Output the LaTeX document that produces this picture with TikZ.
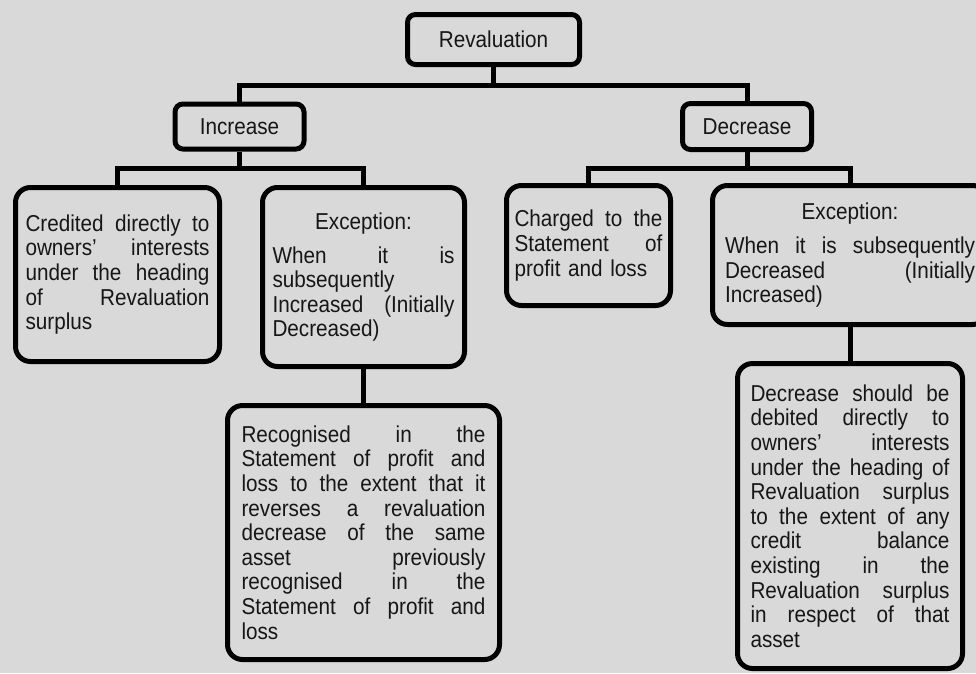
\documentclass[tikz,border=0pt]{standalone}
\usepackage{fontspec}
\setmainfont{Liberation Sans}[FakeStretch=0.9]
\definecolor{bgc}{RGB}{217,217,217}
\definecolor{ink}{RGB}{22,22,22}
% one justified line, one ragged last line, one centred line
\newlength\jwd
\newcommand\jline[1]{\hbox to\jwd{\spaceskip=\fontdimen2\font plus 1fil\relax #1}}
\newcommand\lastline[1]{\hbox to\jwd{#1\hfil}}
\newcommand\ctrline[1]{\hbox to\jwd{\hfil#1\hfil}}
\tikzset{
  every node/.style={font=\fontsize{23}{24.6}\selectfont, text=ink},
  smallbox/.style={draw=black, line width=5pt, rounded corners=8pt, fill=bgc, inner sep=0pt},
  bigbox/.style={draw=black, line width=5pt, rounded corners=15pt, fill=bgc, inner sep=0pt},
  para/.style={text width=#1, execute at begin node={\setlength\jwd{#1}}},
  link/.style={draw=black, line width=5pt}
}
\begin{document}
\begin{tikzpicture}[x=1pt, y=-1pt]
  \fill[bgc] (0,0) rectangle (976,673);
  \useasboundingbox (0,0) rectangle (976,673);

  % top level
  \node[smallbox, minimum width=172pt, minimum height=50pt] (rev) at (493.5,39.5) {Revaluation};
  \node[smallbox, minimum width=129pt, minimum height=45pt] (inc) at (239.5,126.5) {Increase};
  \node[smallbox, minimum width=129pt, minimum height=46pt] (dec) at (747,126.5) {Decrease};

  % increase branch
  \node[bigbox, minimum width=204pt, minimum height=174pt, para=184pt] (cred) at (117.5,274.5) {%
    \jline{Credited directly to}
    \jline{owners’ interests}
    \jline{under the heading}
    \jline{of Revaluation}
    \lastline{surplus}};
  \node[bigbox, minimum width=202pt, minimum height=179pt, para=182pt] (exci) at (363.5,277) {%
    \ctrline{Exception:}\vskip 9.5pt
    \jline{When it is}
    \lastline{subsequently}
    \jline{Increased (Initially}
    \lastline{Decreased)}};
  \node[bigbox, minimum width=272pt, minimum height=254pt, para=244pt] (recog) at (363.5,532.5) {%
    \jline{Recognised in the}
    \jline{Statement of profit and}
    \jline{loss to the extent that it}
    \jline{reverses a revaluation}
    \jline{decrease of the same}
    \jline{asset previously}
    \jline{recognised in the}
    \jline{Statement of profit and}
    \lastline{loss}};

  % decrease branch
  \node[bigbox, minimum width=164pt, minimum height=120pt, para=148pt] (chg) at (588.5,245.5) {%
    \jline{Charged to the}
    \jline{Statement of}
    \lastline{profit and loss}};
  \node[bigbox, minimum width=275pt, minimum height=139pt, para=250pt] (excd) at (850,255) {%
    \ctrline{Exception:}\vskip 9.5pt
    \jline{When it is subsequently}
    \jline{Decreased (Initially}
    \lastline{Increased)}};
  \node[bigbox, minimum width=225pt, minimum height=305pt, para=199pt] (debit) at (850,516) {%
    \jline{Decrease should be}
    \jline{debited directly to}
    \jline{owners’ interests}
    \jline{under the heading of}
    \jline{Revaluation surplus}
    \jline{to the extent of any}
    \jline{credit balance}
    \jline{existing in the}
    \jline{Revaluation surplus}
    \jline{in respect of that}
    \lastline{asset}};

  % junction points of the bus lines
  \coordinate (bustop) at (493.5,85);
  \coordinate (businc) at (239.5,168);
  \coordinate (busdec) at (747,168);

  % connectors
  \draw[link] (rev.south) -- (bustop);
  \draw[link] (inc.north) |- (bustop) -| (dec.north);
  \draw[link] (inc.south) -- (businc);
  \draw[link] (cred.north) |- (businc) -| (exci.north);
  \draw[link] (dec.south) -- (busdec);
  \draw[link] (chg.north) |- (busdec) -| (excd.north);
  \draw[link] (exci.south) -- (recog.north);
  \draw[link] (excd.south) -- (debit.north);
\end{tikzpicture}
\end{document}
